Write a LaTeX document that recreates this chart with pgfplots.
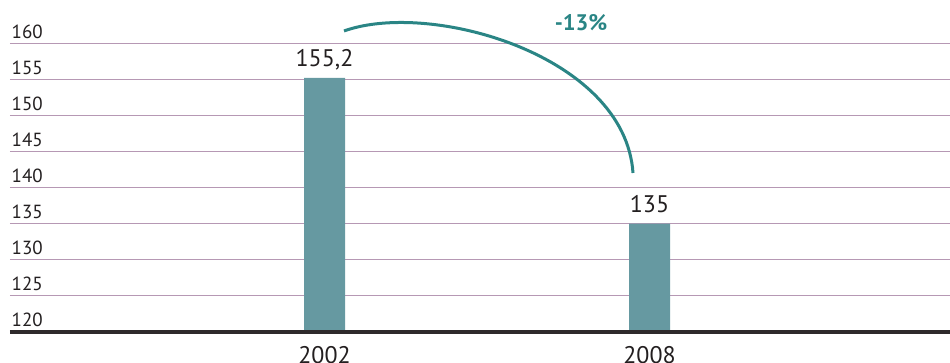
\documentclass[border=0pt]{standalone}
\usepackage{pgfplots}
\pgfplotsset{compat=1.18}
\usepackage{fontspec}
\setmainfont{PT Sans}
\definecolor{barcol}{RGB}{102,153,161}
\definecolor{arccol}{RGB}{42,133,133}
\definecolor{gridcol}{RGB}{182,152,180}
\definecolor{txt}{RGB}{35,31,32}
\begin{document}
\begin{tikzpicture}[x=1pt, y=1pt]
\useasboundingbox (-10,-31.3) rectangle (940,331.7);
\begin{axis}[
  scale only axis,
  width=940pt, height=288.4pt,
  at={(0,0)}, anchor=south west,
  xmin=-0.9677, xmax=1.9246,
  ymin=120, ymax=160,
  ytick={120,125,...,160},
  xtick={0,1}, xticklabels={2002,2008},
  axis line style={draw=none},
  major tick length=0pt,
  ymajorgrids,
  major grid style={gridcol, line width=1.3pt},
  /pgf/number format/assume math mode=true,
  /pgf/number format/use comma,
  yticklabel style={anchor=base west, inner sep=0pt, xshift=1.5pt, yshift=5pt,
    font=\fontsize{19}{22}\selectfont, text=txt},
  xticklabel style={anchor=north, inner sep=0pt, yshift=-15pt,
    font=\fontsize{24}{28}\selectfont, text=txt},
  nodes near coords,
  every node near coord/.append style={anchor=base, inner sep=0pt, yshift=11.5pt,
    font=\fontsize{24}{28}\selectfont, text=txt},
  clip=false,
]
\addplot[ybar, bar width=41pt, fill=barcol, draw=none] coordinates {(0,155.2) (1,135)};
% heavy baseline at 120
\draw[line width=4pt, color=txt!95!white] (rel axis cs:0,0) -- (rel axis cs:1,0);
\end{axis}
% change arrow between the two years
\draw[arccol, line width=3pt] (334,300.7) .. controls (420,331.7) and (615,276.7) .. (623,158.7);
\node[anchor=base, inner sep=0pt, text=arccol, font=\fontsize{22.5}{26}\selectfont\bfseries] at (571,301) {-13\%};
\end{tikzpicture}
\end{document}
